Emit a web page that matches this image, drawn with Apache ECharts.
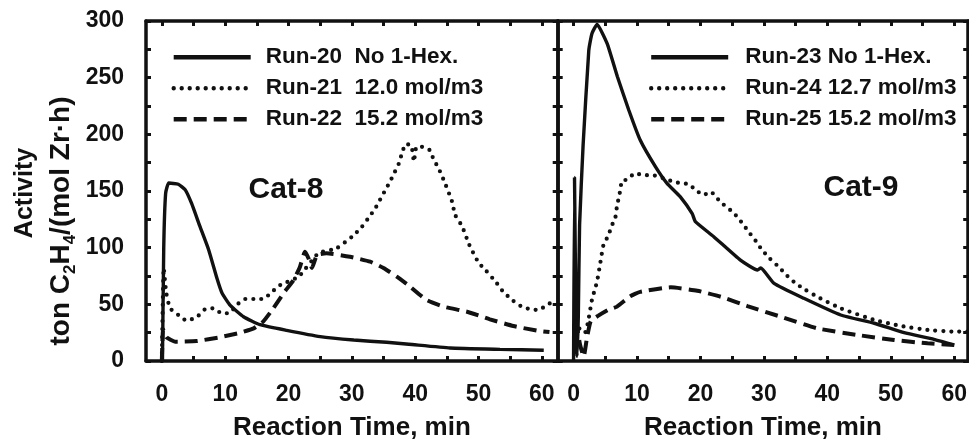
<!DOCTYPE html>
<html><head><meta charset="utf-8">
<script src="https://cdn.jsdelivr.net/npm/echarts@6/dist/echarts.min.js"></script>
<style>html,body{margin:0;padding:0;background:#fff}#c{width:969px;height:439px}</style>
</head><body><div id="c"></div>
<script>
// ---- data ----
const xTickLabels = [0, 10, 20, 30, 40, 50, 60];
const xMinorTicks = [0, 5, 10, 15, 20, 25, 30, 35, 40, 45, 50, 55, 60];
const yTickLabels = [0, 50, 100, 150, 200, 250, 300];
const yMinorTicks = [0, 25, 50, 75, 100, 125, 150, 175, 200, 225, 250, 275, 300];

const seriesNamesLeft = ['Run-20  No 1-Hex.', 'Run-21  12.0 mol/m3', 'Run-22  15.2 mol/m3'];
const seriesNamesRight = ['Run-23 No 1-Hex.', 'Run-24 12.7 mol/m3', 'Run-25 15.2 mol/m3'];
const panelLabels = ['Cat-8', 'Cat-9'];

// Cat-8
const run20 = [[0.1,0],[0.3,100],[0.6,148],[1.1,157],[2.6,156],[3.7,151],[4.7,139],[6.0,119],[7.4,98],[8.7,73],[9.5,60],[10.8,49],[12.9,39],[15.5,32],[19.7,27],[25,21.5],[30.3,18.5],[35.5,16.5],[39,14.8],[45.5,11.5],[53.4,10.3],[60.3,9.5]];
const run21 = [[0,0],[0.3,82],[0.7,60],[1.3,46.5],[2.6,40.6],[3.9,35.6],[5.5,38.6],[6.8,45.6],[8.1,46.5],[9.5,42],[10.8,42.6],[11.8,49.4],[13.2,54.7],[14.5,54.7],[16,54.7],[17.4,61],[18.7,67],[21.6,74.4],[24.7,95],[27.6,99.4],[30.3,111],[31.6,118.5],[32.6,126],[33.7,134.7],[35.3,151],[36,158],[36.8,167],[37.4,174],[37.9,183],[38.5,191.5],[39.4,190],[39.8,176],[40.2,189],[41.1,189],[42.3,186],[42.9,178],[43.7,170],[44.7,157],[45.8,141],[46.3,129],[47.4,119],[48.5,103],[50,86.8],[51.2,79.7],[52.9,68.5],[53.9,61],[55.5,53],[56.8,48],[58.2,45.6],[59.5,45],[60.8,49.4],[61.6,52]];
const run22 = [[0,0],[0.2,28],[0.7,21],[2.1,17],[5.5,17.6],[9.2,21],[12.4,25],[14.5,28.8],[16,34.7],[17.6,46.5],[19.2,59.7],[20.8,71.5],[21.8,83],[22.6,96.4],[23.2,90],[23.7,82],[24.5,93.5],[26,95],[29.7,92],[32.9,87.6],[35,82],[37.1,74.4],[39.2,65.6],[41.8,53.8],[44.5,47.9],[48.2,43.5],[51.8,36.8],[55.5,30.9],[59.2,26.8],[61.2,25.5]];
// Cat-9
const run23 = [[0,0],[0.15,162],[0.4,20],[0.55,4],[0.75,40],[0.95,120],[1.5,190],[2.4,274],[2.9,289],[3.7,297],[5.3,280],[6.9,251],[8.7,221.5],[10.5,195],[12.9,171.5],[14.7,157],[16.8,145],[18.7,130],[19.2,123],[22.1,109.7],[26.3,89],[29,80.3],[29.5,82],[31.6,68.5],[36.3,55.3],[42.1,40.6],[47.4,33.3],[52.1,25],[56.8,19.1],[60,14.1]];
const run24 = [[0.3,35],[1.0,28],[1.8,25],[2.3,35],[2.9,54],[3.4,64],[3.7,70],[4.2,86],[4.7,102],[5.5,111],[6.0,119],[6.6,127],[6.8,135],[7.1,143.5],[7.4,151.5],[7.6,159],[8.4,160],[9.7,165.6],[11,164],[12.4,164],[15.3,159],[16.7,157],[18.2,156],[19.2,151],[20.5,146.5],[21.6,149.4],[23.1,140.6],[25.3,130.3],[26.6,121.5],[27.6,114],[28.7,106],[29.7,98],[30.9,90.6],[32.4,82.7],[33.7,75],[35,68.5],[36.6,62.6],[38.4,56.7],[42.1,46.5],[47.4,36.2],[51.6,30.9],[55.8,27.4],[60,25.9],[62.2,26]];
const run25 = [[0.4,36],[1.0,15],[1.6,4],[2.1,20],[2.7,35],[3.9,40],[5.4,45],[6.85,48],[8.9,57],[10.5,61],[15.3,65],[19.5,62],[23.2,56.7],[27.4,48.5],[32.7,39],[38.4,28.8],[44.7,23],[50.5,18.5],[55.8,15.6],[60,14.1]];

// ---- chart ----
const FONT = 'Liberation Sans';
const INK = '#111';
const AXW = 3.5;

function xAxisDef(gridIndex, pos, max, withLabels, name) {
  return {
    type: 'value', gridIndex, position: pos, min: -2.5, max: max,
    axisLine: { show: true, onZero: false, lineStyle: { color: INK, width: AXW } },
    axisTick: { show: true, inside: true, length: 5, customValues: xMinorTicks, lineStyle: { color: INK, width: 3 } },
    axisLabel: withLabels ? { show: true, customValues: xTickLabels, margin: 22, color: INK, fontFamily: FONT, fontWeight: 'bold', fontSize: 23 } : { show: false },
    splitLine: { show: false },
    name: name || '', nameLocation: 'middle', nameGap: 54,
    nameTextStyle: { color: INK, fontFamily: FONT, fontWeight: 'bold', fontSize: 26 }
  };
}
function yAxisDef(gridIndex, pos, withLabels) {
  return {
    type: 'value', gridIndex, position: pos, min: 0, max: 300,
    axisLine: { show: true, onZero: false, lineStyle: { color: INK, width: AXW } },
    axisTick: { show: true, inside: true, length: 5, customValues: yMinorTicks, lineStyle: { color: INK, width: 3 } },
    axisLabel: withLabels ? { show: true, customValues: yTickLabels, margin: 22, color: INK, fontFamily: FONT, fontWeight: 'bold', fontSize: 23 } : { show: false },
    splitLine: { show: false }
  };
}

const solid = { color: INK, width: 3.4, type: 'solid' };
const dotted = { color: INK, width: 4.2, type: [0, 8], cap: 'round' };
const dashed = { color: INK, width: 4, type: [13, 7], cap: 'butt' };

function lineSeries(name, data, style, idx) {
  return { type: 'line', name, data, xAxisIndex: idx * 2, yAxisIndex: idx * 2,
    symbol: 'none', smooth: 0.15, lineStyle: style, itemStyle: { color: INK }, silent: true, animation: false };
}

function legendDef(names, left, textPad) {
  return { data: names, orient: 'vertical', left: left, top: 45.7, padding: 0,
    itemWidth: 77, itemHeight: 22, itemGap: 8, selectedMode: false,
    itemStyle: { color: 'rgba(0,0,0,0)', borderWidth: 0 },
    lineStyle: { width: 4.4 },
    textStyle: { color: INK, fontFamily: FONT, fontWeight: 'bold', fontSize: 22.5, lineHeight: 22, padding: [0, 0, 0, textPad] } };
}

const option = {
  animation: false,
  backgroundColor: '#fff',
  grid: [
    { left: 146, top: 21, width: 411.7, height: 340, outerBoundsMode: 'none', containLabel: false },
    { left: 557.7, top: 21, width: 410.5, height: 340, outerBoundsMode: 'none', containLabel: false }
  ],
  xAxis: [
    xAxisDef(0, 'bottom', 62.5, true, 'Reaction Time, min'),
    xAxisDef(0, 'top', 62.5, false),
    xAxisDef(1, 'bottom', 62.2, true, 'Reaction Time, min'),
    xAxisDef(1, 'top', 62.2, false)
  ],
  yAxis: [
    yAxisDef(0, 'left', true),
    yAxisDef(0, 'right', false),
    yAxisDef(1, 'left', false),
    yAxisDef(1, 'right', false)
  ],
  legend: [
    legendDef(seriesNamesLeft, 171.5, 10),
    legendDef(seriesNamesRight, 649, 12)
  ],
  series: [
    lineSeries(seriesNamesLeft[0], run20, solid, 0),
    lineSeries(seriesNamesLeft[1], run21, dotted, 0),
    lineSeries(seriesNamesLeft[2], run22, dashed, 0),
    lineSeries(seriesNamesRight[0], run23, solid, 1),
    lineSeries(seriesNamesRight[1], run24, dotted, 1),
    lineSeries(seriesNamesRight[2], run25, dashed, 1)
  ],
  graphic: [
    { type: 'text', x: 286, y: 190, silent: true,
      style: { text: panelLabels[0], fill: INK, font: 'bold 30px "Liberation Sans"', align: 'center', verticalAlign: 'middle' } },
    { type: 'text', x: 861, y: 188, silent: true,
      style: { text: panelLabels[1], fill: INK, font: 'bold 30px "Liberation Sans"', align: 'center', verticalAlign: 'middle' } },
    { type: 'text', x: 25, y: 193, rotation: Math.PI / 2, silent: true,
      style: { text: 'Activity', fill: INK, font: 'bold 25px "Liberation Sans"', align: 'center', verticalAlign: 'middle' } },
    { type: 'text', x: 61, y: 221, rotation: Math.PI / 2, silent: true,
      style: { text: 'ton C{sub|2}H{sub|4}/(mol Zr·h)', fill: INK, fontFamily: FONT, fontWeight: 'bold', fontSize: 28, lineHeight: 36,
        align: 'center', verticalAlign: 'middle',
        rich: { sub: { fontFamily: FONT, fontWeight: 'bold', fontSize: 17, lineHeight: 17, verticalAlign: 'bottom', fill: INK } } } }
  ]
};

const chart = echarts.init(document.getElementById('c'), null, { renderer: 'canvas' });
chart.setOption(option);
</script>
</body></html>
